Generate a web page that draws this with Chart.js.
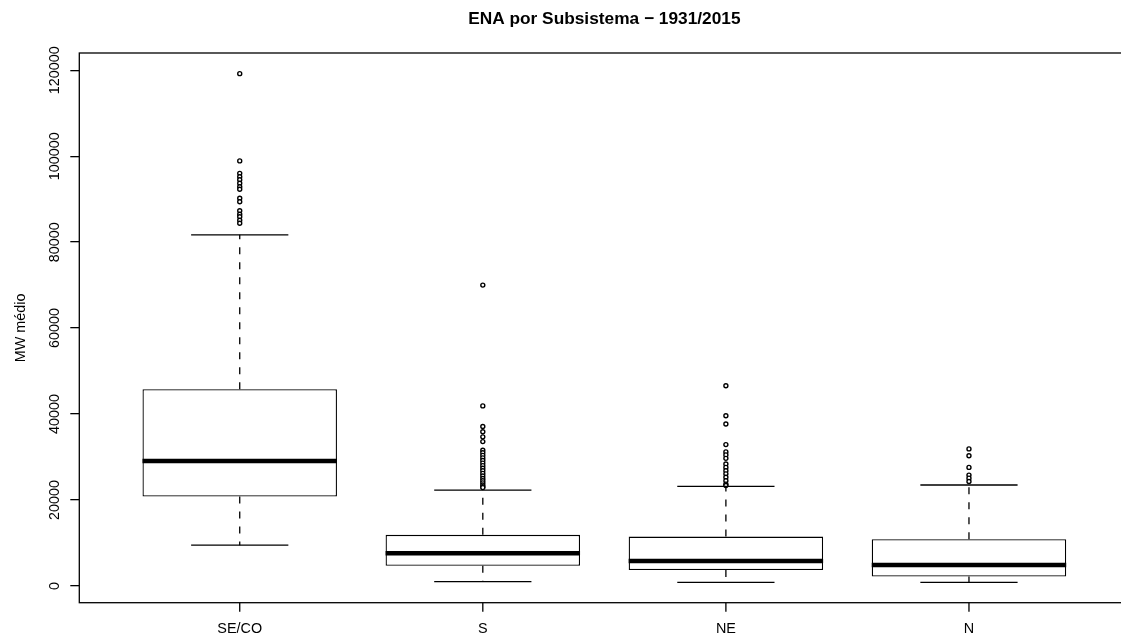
<!DOCTYPE html>
<html lang="pt">
<head>
    <meta charset="UTF-8">
    <title>ENA por Subsistema - 1931/2015</title>
    <script src="https://cdn.jsdelivr.net/npm/chart.js"></script>
    <style>
        body { margin: 0; overflow: hidden; background: #fff; }
        #wrap { width: 1160px; height: 639px; position: relative; }
    </style>
</head>
<body>
    <div id="wrap"><canvas id="boxChart"></canvas></div>

    <script>
    // categories and box statistics (MW médio)
    const categories = ["SE/CO", "S", "NE", "N"];
    const lowerWhisker = [9500, 1000, 860, 860];
    const q1 = [20800, 4700, 3700, 2200];
    const median = [29100, 7600, 5800, 4900];
    const q3 = [45800, 11900, 11500, 10900];
    const upperWhisker = [81700, 22300, 23200, 23500];

    // outliers for each subsystem
    const outSECO = [119200, 98900, 96000, 95200, 94500, 93700, 92900, 92300, 90200, 89400, 87300, 86500, 85900, 85100, 84400];
    const outS = [70000, 41900, 37100, 35900, 34700, 33600, 31600, 31000, 30400, 29800, 29200, 28600, 28000, 27400,
                  26800, 26200, 25600, 25000, 24500, 24000, 23500, 23100, 22900];
    const outNE = [46600, 39600, 37700, 32900, 31200, 30500, 29700, 28400, 27600, 26800, 26100, 25300, 24500, 23700, 23400];
    const outN = [31900, 30300, 27600, 25800, 25100, 24300];
    const outliers = [outSECO, outS, outNE, outN];

    const yTicks = [0, 20000, 40000, 60000, 80000, 100000, 120000];

    const FONT = "'Liberation Sans', Arial, Helvetica, sans-serif";

    // R-like boxplot extras: frame, medians, whiskers and text
    const boxExtras = {
        id: "boxExtras",
        afterDatasetsDraw(chart) {
            const ctx = chart.ctx;
            const xs = chart.scales.x, ys = chart.scales.y;
            ctx.save();
            ctx.strokeStyle = "#000";
            categories.forEach((c, i) => {
                const pos = i + 1;
                const x = xs.getPixelForValue(pos);
                // whiskers (dashed)
                ctx.lineWidth = 1.3;
                ctx.setLineDash([7, 8]);
                ctx.beginPath();
                ctx.moveTo(x, ys.getPixelForValue(q3[i]));
                ctx.lineTo(x, ys.getPixelForValue(upperWhisker[i]));
                ctx.moveTo(x, ys.getPixelForValue(q1[i]));
                ctx.lineTo(x, ys.getPixelForValue(lowerWhisker[i]));
                ctx.stroke();
                // staples
                ctx.setLineDash([]);
                ctx.beginPath();
                [upperWhisker[i], lowerWhisker[i]].forEach(v => {
                    const y = ys.getPixelForValue(v);
                    ctx.moveTo(xs.getPixelForValue(pos - 0.2), y);
                    ctx.lineTo(xs.getPixelForValue(pos + 0.2), y);
                });
                ctx.stroke();
                // median
                ctx.lineWidth = 4.5;
                ctx.beginPath();
                const ym = ys.getPixelForValue(median[i]);
                ctx.moveTo(xs.getPixelForValue(pos - 0.4), ym);
                ctx.lineTo(xs.getPixelForValue(pos + 0.4), ym);
                ctx.stroke();
            });
            ctx.restore();
        },
        afterDraw(chart) {
            const ctx = chart.ctx;
            const area = chart.chartArea;
            const xs = chart.scales.x, ys = chart.scales.y;
            ctx.save();
            // plot frame
            ctx.strokeStyle = "#000";
            ctx.lineWidth = 1.3;
            ctx.strokeRect(area.left, area.top, area.right - area.left, area.bottom - area.top);

            // x tick marks
            ctx.beginPath();
            xs.ticks.forEach(t => {
                const x = xs.getPixelForValue(t.value);
                ctx.moveTo(x, area.bottom);
                ctx.lineTo(x, area.bottom + 9);
            });
            ctx.stroke();

            ctx.fillStyle = "#000";
            // title
            ctx.font = "bold 17.3px " + FONT;
            ctx.textAlign = "center";
            ctx.textBaseline = "alphabetic";
            ctx.fillText("ENA por Subsistema \u2212 1931/2015", (area.left + area.right) / 2, 24);

            // x tick labels
            ctx.font = "14.4px " + FONT;
            xs.ticks.forEach(t => {
                ctx.fillText(categories[t.value - 1], xs.getPixelForValue(t.value), 633);
            });

            // y tick labels (rotated, like R)
            ys.ticks.forEach(t => {
                ctx.save();
                ctx.translate(58.5, ys.getPixelForValue(t.value));
                ctx.rotate(-Math.PI / 2);
                ctx.fillText(String(t.value), 0, 0);
                ctx.restore();
            });

            // y axis title
            ctx.save();
            ctx.translate(25, (area.top + area.bottom) / 2);
            ctx.rotate(-Math.PI / 2);
            ctx.fillText("MW m\u00e9dio", 0, 0);
            ctx.restore();
            ctx.restore();
        }
    };

    const boxData = categories.map((c, i) => ({ x: i + 1, y: [q1[i], q3[i]] }));
    const outlierData = [];
    outliers.forEach((list, i) => list.forEach(v => outlierData.push({ x: i + 1, y: v })));

    new Chart(document.getElementById("boxChart"), {
        data: {
            datasets: [
                {
                    type: "bar",
                    data: boxData,
                    backgroundColor: "#fff",
                    borderColor: "#000",
                    borderWidth: 1.3,
                    borderSkipped: false,
                    barPercentage: 0.8,
                    categoryPercentage: 1,
                    grouped: false
                },
                {
                    type: "scatter",
                    data: outlierData,
                    pointRadius: 2,
                    pointHoverRadius: 2,
                    borderWidth: 1.4,
                    borderColor: "#000",
                    backgroundColor: "#fff"
                }
            ]
        },
        options: {
            responsive: true,
            maintainAspectRatio: false,
            animation: false,
            layout: { padding: { top: 53, right: 30.6, bottom: 0, left: 0 } },
            plugins: {
                legend: { display: false },
                tooltip: { enabled: false },
                title: { display: false }
            },
            scales: {
                x: {
                    type: "linear",
                    min: 0.34,
                    max: 4.66,
                    offset: false,
                    afterBuildTicks: s => { s.ticks = categories.map((c, i) => ({ value: i + 1 })); },
                    afterFit: s => { s.height = 36.3; },
                    ticks: { display: false },
                    border: { display: false },
                    grid: { display: false }
                },
                y: {
                    type: "linear",
                    min: -3880,
                    max: 124000,
                    afterBuildTicks: s => { s.ticks = yTicks.map(v => ({ value: v })); },
                    afterFit: s => { s.width = 79.3; },
                    ticks: { display: false },
                    border: { display: false },
                    grid: { drawOnChartArea: false, drawTicks: true, tickLength: 9, color: "#000", lineWidth: 1.3 }
                }
            }
        },
        plugins: [boxExtras]
    });
    </script>
</body>
</html>
